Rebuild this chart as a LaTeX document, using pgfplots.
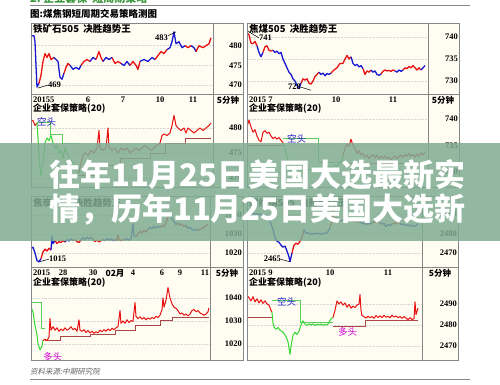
\documentclass[border=0pt]{standalone}
\usepackage{fontspec}
\usepackage{pgfplots}
\pgfplotsset{compat=1.18}
\setmainfont{Liberation Serif}
\newfontfamily\cjk{Noto Sans CJK SC}
\newfontfamily\cjkit[FakeSlant=0.2]{Noto Sans CJK SC}
\definecolor{cream}{RGB}{255,253,242}
\definecolor{pr}{RGB}{232,16,16}
\definecolor{pb}{RGB}{24,24,210}
\definecolor{pg}{RGB}{50,215,50}
\definecolor{stopr}{RGB}{170,70,70}
\definecolor{stopg}{RGB}{90,205,90}
\definecolor{frm}{RGB}{135,135,135}
\definecolor{banner}{RGB}{128,172,146}
\definecolor{kt}{RGB}{30,30,200}
\definecolor{dt}{RGB}{210,0,210}
\definecolor{hdr}{RGB}{60,150,60}
\pgfplotsset{
  panel/.style={scale only axis, anchor=north west, axis line style={draw=none},
    major tick length=0pt, xtick=\empty, yticklabel pos=right, ymajorgrids,
    grid style={gray!30, densely dotted}, no marks, clip=true,
    /pgf/number format/assume math mode=true, /pgf/number format/1000 sep={},
    yticklabel style={font=\bfseries\fontsize{8.5}{9}\selectfont, anchor=east, inner sep=0pt}},
  R/.style={pr, line width=1.3pt, line join=round},
  B/.style={pb, line width=1.3pt, line join=round},
  r/.style={pr, line width=1.0pt, line join=round},
  g/.style={pg, line width=1.0pt, line join=round},
  sr/.style={stopr, line width=0.6pt},
  sg/.style={stopg, line width=0.6pt},
}
\tikzset{num/.style={font=\bfseries\fontsize{8.5}{9}\selectfont, inner sep=0pt},
  lab/.style={font=\cjk\fontsize{9.5}{10}\selectfont, inner sep=0pt, anchor=west}}
\begin{document}
\begin{tikzpicture}[x=1pt,y=1pt]
\clip (0,0) rectangle (500,384);
\fill[white] (0,0) rectangle (500,384);
% header
\node[anchor=west, text=hdr, font=\cjk\bfseries\fontsize{11}{12}\selectfont, inner sep=0pt] at (30,386) {2.\ 企业套保\ \ 短周期策略};
\draw[frm, line width=0.8pt] (30,379) -- (470,379);
\node[anchor=west, font=\cjk\bfseries\fontsize{9.5}{10}\selectfont, inner sep=0pt] at (30,370) {图:煤焦钢短周期交易策略测图};
% panel backgrounds
\fill[cream] (31,361) rectangle (243,197);
\fill[cream] (247,361) rectangle (459,197);
\fill[cream] (31,188) rectangle (243,24);
\fill[cream] (247,188) rectangle (458,24);

% ================= TL top
\begin{axis}[panel, at={(31pt,361pt)}, width=182pt, height=71pt, xmin=31, xmax=213,
  ymin=467.75, ymax=485.75, ytick={470,475,480}, yticklabel style={xshift=29pt}]
\addplot[B] coordinates {(31,482.5)(34,482.5)(35,481)(36,475)(37,469.5)(39,470.5)};
\addplot[R] coordinates {(39,470.5)(41,472.5)(43,476)(45,478)(47,477)(49,478)(51,476.5)(54,477)};
\addplot[B] coordinates {(54,477)(56,476.5)(58,476)(60,472)(62,471.5)(64,473)};
\addplot[R] coordinates {(64,473)(66,474.5)(68,475.5)(70,475)};
\addplot[B] coordinates {(70,475)(73,474)(76,474.5)(79,474)(81,475)};
\addplot[R] coordinates {(81,475)(84,476)(87,476.5)(90,476)};
\addplot[B] coordinates {(90,476)(93,477)(96,476.5)};
\addplot[R] coordinates {(96,476.5)(99,478.5)(101,477)(103,476)};
\addplot[B] coordinates {(103,476)(106,477)(109,476.5)(112,477)};
\addplot[R] coordinates {(112,477)(115,475.5)(118,476)(121,475.5)};
\addplot[B] coordinates {(121,475.5)(124,475)(127,476)(130,475)};
\addplot[R] coordinates {(130,475)(133,476)(136,475)(138,474)(140,476)};
\addplot[B] coordinates {(140,476)(144,476.5)(148,476)(152,477)(155,476.5)};
\addplot[R] coordinates {(155,476.5)(158,477.5)(161,478.5)(164,478)(167,479)};
\addplot[B] coordinates {(167,479)(170,479.5)(172,481)(174,483.5)(176,480.5)(179,481)(182,479.5)(185,480)};
\addplot[R] coordinates {(185,480)(188,479.5)(191,480)};
\addplot[B] coordinates {(191,480)(194,479.5)(196,478.5)};
\addplot[R] coordinates {(196,478.5)(199,480)(203,479.5)(206,480)(209,480.5)(211,482)};
\draw[black, line width=0.5pt] (axis cs:38,469.25) -- (axis cs:48,470.0);
\node[num, anchor=west] at (axis cs:48,470.0) {469};
\draw[black, line width=0.5pt] (axis cs:168,482.5) -- (axis cs:176,483.5);
\node[num, anchor=east] at (axis cs:168,482.1) {483};
\end{axis}
% ================= TL bottom
\begin{axis}[panel, at={(31pt,280pt)}, width=182pt, height=83pt, xmin=31, xmax=213,
  ymin=468.2, ymax=484.8, ytick={470,475,480}, yticklabel style={xshift=29pt}]
\addplot[sg] coordinates {(37,481.2)(50,481.2)(50,478.8)(62,478.8)(62,477)(79,477)};
\addplot[sr] coordinates {(79,470.5)(95,470.5)(95,472.5)(120,472.5)(120,474)(150,474)(150,475)(165,475)(165,477)(185,477)(185,478)(211,478)};
\addplot[r] coordinates {(31,481.5)(33,481.5)(35,480.5)(37,481)};
\addplot[g] coordinates {(37,481)(38,478)(39,475)(40,472)(41,470.5)(43,473)(45,477)(47,478)(49,477.5)(51,478.5)(53,477)(55,476)(57,476.5)(59,475)(61,475.5)(63,474)(65,476)(67,475)(69,474)(71,473.5)(73,473)(75,472.5)(77,471.5)(79,471)};
\addplot[r] coordinates {(79,471)(81,473)(83,474.5)(85,475)(88,474.5)(91,475.5)(94,475)(97,476)(99,479.5)(100,476)(103,475.5)(106,476)(108,480)(109,476)(112,475.5)(115,476)(118,475)(121,476)(124,475.5)(127,476)(130,475)(133,475.5)(136,476)(139,475.5)(142,476)(145,476.5)(148,476)(151,475.5)(154,476)(157,476.5)(160,477)(162,478.5)(164,478.8)(167,478.5)(170,479)(172,480.5)(174,482.5)(176,480.5)(178,480)(181,479.5)(184,480)(186,479)(188,480)(191,479.5)(194,479)(197,479.5)(200,480)(203,479.5)(206,480)(209,480.5)(211,481)};
\node[lab, text=kt] at (axis cs:37,481.2) {空头};
\end{axis}

% ================= TR top
\begin{axis}[panel, at={(247pt,361pt)}, width=181pt, height=71pt, xmin=247, xmax=428,
  ymin=727.05, ymax=743.18, ytick={730,735,740}, yticklabel style={xshift=30pt}]
\addplot[R] coordinates {(247,741)(249,740.5)(251,738.6)(253,738.5)(255,739)(257,738)};
\addplot[B] coordinates {(257,738)(259,736.5)(261,735.5)(263,736.5)};
\addplot[R] coordinates {(263,736.5)(265,737.8)(267,738)(269,737)(271,736.8)(273,737)};
\addplot[B] coordinates {(273,737)(275,736.5)(277,736.8)(279,736.2)(281,736.5)(283,735)(285,734)(287,733)(289,732)(291,731.5)(293,730.5)(295,730)(297,729)(299,728.3)(301,729.5)};
\addplot[R] coordinates {(301,729.5)(303,730.5)(305,730.2)(307,730.5)(309,729.5)(311,729.3)(313,730)(315,731)(317,731.5)(319,732)};
\addplot[B] coordinates {(319,732)(321,731.5)(323,731.8)(325,731.2)(327,731.7)(329,731.5)(331,731.8)};
\addplot[R] coordinates {(331,731.8)(334,732.5)(337,733)(340,734)(343,734)(345,735)(347,735.8)(349,735)(351,735.5)};
\addplot[B] coordinates {(351,735.5)(353,734)(355,733.5)(357,733.8)(359,733.2)(361,733.5)(363,732.8)};
\addplot[R] coordinates {(363,732.8)(365,731.5)(367,732.3)(369,732)(371,732.5)};
\addplot[B] coordinates {(371,732.5)(373,732)(375,732.3)(377,731.5)(379,731.3)(381,731.6)};
\addplot[R] coordinates {(381,731.6)(383,732.2)(385,732.5)(387,732.3)(389,732.4)(391,732.2)(393,732.5)(395,732.3)};
\addplot[B] coordinates {(395,732.3)(397,732)(399,732.5)(401,732.2)(403,732.5)};
\addplot[R] coordinates {(403,732.5)(405,733)(407,732.8)(409,733.3)(411,733)(413,733.5)(415,733)(417,732.5)(419,733)(421,732.5)};
\addplot[B] coordinates {(421,732.5)(423,733)(425,733.5)};
\draw[black, line width=0.5pt] (axis cs:248,741.3) -- (axis cs:259,739.8);
\node[num, anchor=west] at (axis cs:259,739.8) {741};
\draw[black, line width=0.5pt] (axis cs:301,728.6) -- (axis cs:311,727.9);
\node[num, anchor=east] at (axis cs:301,728.7) {728};
\end{axis}
% ================= TR bottom
\begin{axis}[panel, at={(247pt,280pt)}, width=181pt, height=83pt, xmin=247, xmax=428,
  ymin=727.17, ymax=742.83, ytick={730,735,740}, yticklabel style={xshift=30pt}]
\addplot[sr] coordinates {(247,735.1)(283,735.1)};
\addplot[sg] coordinates {(283,736.4)(318,736.4)(318,731.9)(343,731.9)};
\addplot[sr] coordinates {(343,731.7)(425,731.7)};
\addplot[r] coordinates {(247,738.5)(249,739.8)(251,738.5)(253,737.5)(255,738)(257,736.8)(259,736)(261,735.7)(263,737.5)(265,737.8)(267,737.3)(269,737.5)(271,736.8)(273,736.3)(275,736.6)(277,736.2)(279,736.5)(281,736)(283,735.5)};
\addplot[g] coordinates {(283,735.5)(285,734.5)(287,733)(289,731.5)(291,731)(293,730.5)(295,730)(297,729.5)(299,729.8)(301,730.2)(303,729.7)(305,730.5)(307,730.2)(309,730.6)(311,730.3)(313,730.8)(315,731)(317,730.7)(319,731)(321,730.6)(323,731)(325,730.8)(327,731.2)(329,731)(331,730.7)(333,731)(335,731.3)(337,731)(339,731.5)(341,732)(343,733)};
\addplot[r] coordinates {(343,733)(345,734.5)(347,735.3)(349,734.8)(351,736.2)(353,735)(355,734.5)(357,733.5)(359,734)(361,733.2)(363,733.5)(365,732.8)(367,733.2)(369,732.5)(371,733)(373,733.3)(375,732.7)(377,733.2)(379,732.5)(381,733)(383,732.6)(385,733)(387,732.5)(389,732.8)(391,732.3)(393,732.7)(395,733)(397,732.5)(399,733)(401,733.2)(403,732.8)(405,733.3)(407,733)(409,733.5)(411,733)(413,733.3)(415,732.8)(417,733.4)(419,733)(421,733.6)(423,733.2)(425,733.8)};
\node[lab, text=kt] at (axis cs:287,736.2) {空头};
\end{axis}

% ================= BL top
\begin{axis}[panel, at={(31pt,188pt)}, width=179pt, height=71pt, xmin=31, xmax=210,
  ymin=1012.6, ymax=1050, ytick={1020,1030,1040}, yticklabel style={xshift=32pt}]
\addplot[B] coordinates {(31,1022.5)(33,1023)(35,1020)(37,1016)(39,1015.3)(41,1017)};
\addplot[R] coordinates {(41,1017)(43,1020.5)(45,1022)(47,1021)(49,1022.5)(51,1021.5)};
\addplot[B] coordinates {(51,1021.5)(52,1029)(53,1025)(55,1026.5)};
\addplot[R] coordinates {(55,1026.5)(57,1025)(59,1026)(61,1025.5)(63,1026.5)(65,1025.8)};
\addplot[B] coordinates {(65,1025.8)(67,1027)(69,1026.3)(71,1027.5)(73,1026.5)};
\addplot[R] coordinates {(73,1026.5)(75,1027)(77,1026)(79,1025.5)(81,1026.8)};
\addplot[B] coordinates {(81,1026.8)(83,1028)(85,1027.2)(87,1028.3)(89,1027.5)(91,1028)(93,1027.3)};
\addplot[R] coordinates {(93,1027.3)(95,1026)(97,1026.8)(99,1025.8)(101,1026.5)(103,1027)(105,1026.5)};
\addplot[B] coordinates {(105,1026.5)(107,1027.5)(109,1026.8)(111,1027.3)(113,1026.5)(115,1027)};
\addplot[R] coordinates {(115,1027)(117,1026.5)(118,1029.5)(119,1027)(121,1026.5)(123,1027.2)(125,1026.8)};
\addplot[B] coordinates {(125,1026.8)(127,1027.5)(129,1026.8)(131,1027.3)(133,1035.5)(134,1029)(136,1028.5)};
\addplot[R] coordinates {(136,1028.5)(138,1030)(140,1031.5)(142,1030.5)(144,1032)(146,1031)(148,1032.5)};
\addplot[B] coordinates {(148,1032.5)(150,1033.5)(152,1032.8)(154,1034)(156,1033.2)(158,1034)(160,1033.5)};
\addplot[R] coordinates {(160,1033.5)(162,1034.5)(164,1033.8)(166,1036)(168,1039)(170,1041)};
\addplot[B] coordinates {(170,1041)(172,1038)(174,1036.5)(176,1035)(178,1035.8)};
\addplot[R] coordinates {(178,1035.8)(180,1034.5)(182,1035.2)(184,1034)(186,1034.5)};
\addplot[B] coordinates {(186,1034.5)(188,1033)(190,1033.5)(192,1032.5)(194,1032)(196,1032.5)(198,1031.8)};
\addplot[R] coordinates {(198,1031.8)(200,1032.5)(202,1033)(204,1033.5)(206,1034.5)(208,1035)};
\draw[black, line width=0.5pt] (axis cs:40,1015.4) -- (axis cs:49,1016.8);
\node[num, anchor=west] at (axis cs:49,1016.8) {1015};
\end{axis}
% ================= BL bottom
\begin{axis}[panel, at={(31pt,106pt)}, width=179pt, height=82pt, xmin=31, xmax=210,
  ymin=1013.0, ymax=1048.7, ytick={1020,1030,1040}, yticklabel style={xshift=32pt}]
\addplot[sg] coordinates {(31,1038)(41,1038)(41,1027)(45,1027)};
\addplot[sr] coordinates {(45,1021.5)(60,1021.5)(60,1023.5)(90,1023.5)(90,1024)(115,1024)(115,1026)(135,1026)(135,1028)(160,1028)(160,1030.5)(172,1030.5)(172,1031.5)(209,1031.5)};
\addplot[g] coordinates {(31,1036)(33,1034)(35,1028)(37,1024)(38,1020)(40,1017.5)(42,1019)(43,1021.5)};
\addplot[r] coordinates {(43,1021.5)(45,1022)(47,1021.5)(49,1023)(50,1031)(51,1026)(53,1027.5)(55,1026)(57,1027)(59,1025.5)(61,1026.5)(63,1025.8)(65,1027)(67,1026)(69,1026.5)(71,1027.5)(73,1026.2)(75,1026.8)(77,1025.5)(79,1030.5)(80,1026)(82,1025.5)(84,1026.2)(86,1025)(88,1025.8)(90,1024.8)(92,1025.5)(94,1024.6)(96,1025.3)(98,1024.8)(100,1026)(102,1025.3)(104,1026.2)(106,1025.5)(108,1026.5)(110,1025.8)(112,1026.8)(114,1026.2)(116,1027)(118,1027.5)(120,1034.5)(121,1029)(123,1030)(125,1029)(127,1030.5)(129,1029.3)(131,1030.2)(133,1029.8)(135,1038)(136,1032)(138,1031)(140,1031.8)(142,1030.8)(144,1031.5)(146,1030.5)(148,1031.3)(150,1030.8)(152,1031.5)(154,1031)(156,1032)(158,1031.5)(160,1032.5)(162,1035)(163,1040)(164,1036)(166,1039)(168,1044.5)(170,1040)(172,1037.5)(174,1036)(176,1035.5)(178,1034.5)(180,1033)(182,1033.5)(184,1032.5)(186,1033)(188,1032.2)(190,1033)(192,1034.5)(194,1035)(196,1034)(198,1034.5)(200,1033.5)(202,1033)(204,1032.5)(206,1033)(208,1034)(209,1035.7)};
\node[lab, text=dt] at (axis cs:43,1014.3) {多头};
\end{axis}

% ================= BR top
\begin{axis}[panel, at={(247pt,188pt)}, width=175pt, height=71pt, xmin=247, xmax=422,
  ymin=2462.8, ymax=2499.2, ytick={2470,2480,2490}, yticklabel style={xshift=35pt}]
\addplot[B] coordinates {(247,2490)(249,2491)(251,2489.5)(253,2490.5)(255,2489.8)(257,2490.3)(259,2489.5)(261,2490)(263,2489)(265,2489.5)(267,2488.5)(269,2487)(271,2485)(273,2482)(275,2478)(277,2476)(279,2475.5)(281,2474)(283,2473)(285,2473.5)(287,2471)(289,2468)(290,2465.5)(292,2470)};
\addplot[R] coordinates {(292,2470)(294,2474)(296,2475)(298,2474.5)(300,2476)(302,2478)(304,2482)};
\addplot[B] coordinates {(304,2482)(306,2480)(308,2480.5)(310,2479.5)(312,2480)(314,2479.6)(316,2480.2)(318,2479.8)(320,2480)(322,2479.5)(324,2480.3)(326,2480)(328,2481)(330,2483)};
\addplot[R] coordinates {(330,2483)(332,2486)(333,2493)(334,2487)(336,2488)(338,2486.5)(340,2487)};
\addplot[B] coordinates {(340,2487)(342,2486.5)(344,2487.2)(346,2486.8)(348,2487.5)(350,2486.8)(352,2487.3)};
\addplot[R] coordinates {(352,2487.3)(354,2486)(356,2486.8)(358,2485.5)(360,2486)};
\addplot[B] coordinates {(360,2486)(362,2485)(364,2485.5)(366,2484.5)(368,2485.2)(370,2484.8)(372,2485.5)};
\addplot[R] coordinates {(372,2485.5)(374,2486)(376,2485.5)(378,2486.2)(380,2485.3)};
\addplot[B] coordinates {(380,2485.3)(382,2484.8)(384,2485.2)(386,2483.5)(388,2484.5)(390,2484)(392,2484.8)};
\addplot[R] coordinates {(392,2484.8)(394,2485.3)(396,2485)(398,2485.8)(400,2485.2)};
\addplot[B] coordinates {(400,2485.2)(402,2484.5)(404,2484.8)(406,2484)(408,2484.5)(410,2483.8)(412,2484.3)(414,2483.5)(416,2484)(418,2485)};
\draw[black, line width=0.5pt] (axis cs:281,2466.7) -- (axis cs:290,2465.5);
\node[num, anchor=east] at (axis cs:281,2466.9) {2465};
\end{axis}
% ================= BR bottom
\begin{axis}[panel, at={(247pt,106pt)}, width=175pt, height=82pt, xmin=247, xmax=422,
  ymin=2463.3, ymax=2502.4, ytick={2470,2480,2490}, yticklabel style={xshift=35pt}]
\addplot[sr] coordinates {(247,2483.8)(272,2483.8)};
\addplot[sg] coordinates {(272,2491.9)(300,2491.9)(300,2481.5)(333,2481.5)};
\addplot[sr] coordinates {(333,2479.5)(365,2479.5)(365,2482)(418,2482)};
\addplot[r] coordinates {(247,2494)(249,2493)(251,2491.5)(253,2493.5)(255,2491)(257,2492.5)(259,2490.5)(261,2492)(263,2490.3)(265,2491.5)(267,2490)(269,2489.5)(271,2487)(272,2486)};
\addplot[g] coordinates {(272,2486)(273,2481)(274,2479)(276,2478)(278,2478.8)(280,2477.5)(282,2477)(284,2476)(286,2474.5)(288,2472)(290,2466)(291,2470)(293,2475)(295,2476.5)(297,2475.5)(299,2477)(301,2480)(303,2482)(305,2480.5)(307,2479.8)(309,2480.5)(311,2480)(313,2480.6)(315,2479.7)(317,2480.4)(319,2480)(321,2480.5)(323,2479.8)(325,2480.3)(327,2480)(329,2481)(331,2483)(333,2483.5)};
\addplot[r] coordinates {(333,2483.5)(335,2487)(337,2491.5)(339,2490)(341,2491)(343,2489.5)(345,2490.5)(347,2488.5)(349,2489.8)(351,2488)(353,2489)(355,2488.3)(357,2489.5)(359,2490)(360,2494.5)(361,2487)(362,2484.5)(364,2484)(366,2483.3)(368,2484.2)(370,2483.5)(372,2484)(374,2483.2)(376,2484.5)(378,2483.6)(380,2484.3)(382,2483.5)(384,2484.6)(386,2483.7)(388,2484.2)(390,2483.4)(392,2484.6)(394,2483.8)(396,2484.3)(398,2483.5)(400,2484)(402,2483.2)(404,2484)(406,2483.3)(408,2482.5)(410,2483.5)(412,2482.6)(414,2483)(415,2491)(416,2485)(418,2488)};
\node[lab, text=kt] at (axis cs:277,2491.0) {空头};
\node[lab, text=dt] at (axis cs:338,2476.7) {多头};
\end{axis}

% frames
\begin{scope}[frm, line width=0.7pt]
\draw (31,361) rectangle (243,197); \draw (213,361) -- (213,197); \draw (31,290) -- (243,290);
\draw (247,361) rectangle (459,197); \draw (428,361) -- (428,197); \draw (247,290) -- (459,290);
\draw (31,188) rectangle (243,24); \draw (210,188) -- (210,24); \draw (31,117) -- (243,117);
\draw (247,188) rectangle (458,24); \draw (422,188) -- (422,24); \draw (247,117) -- (458,117);
\end{scope}
% titles
\node[lab, font=\cjk\bfseries\fontsize{9.5}{10}\selectfont] at (33,355) {铁矿石505\ \ 决胜趋势王};
\node[lab, font=\cjk\bfseries\fontsize{9.5}{10}\selectfont] at (249,355) {焦煤505\ \ 决胜趋势王};
\node[lab, font=\cjk\bfseries\fontsize{9.5}{10}\selectfont] at (33,181) {焦炭505\ \ 决胜趋势王};
\node[lab, font=\cjk\bfseries\fontsize{9.5}{10}\selectfont] at (249,181) {螺纹钢505\ \ 决胜趋势王};
\foreach \x/\y in {33/275, 249/275, 33/101, 249/101}
  \node[lab, font=\cjk\bfseries\fontsize{9}{10}\selectfont] at (\x,\y) {企业套保策略(20)};
% date strips
\node[num, anchor=west] at (33,284) {20155};
\node[num] at (88,284) {6}; \node[num] at (123,284) {7}; \node[num] at (160,284) {10}; \node[num] at (193,284) {11};
\node[num, font=\cjk\bfseries\fontsize{8.5}{9}\selectfont] at (228,284) {5分钟};
\node[num, anchor=west] at (249,284) {2015 7};
\node[num] at (336,284) {10}; \node[num] at (393,284) {11};
\node[num, font=\cjk\bfseries\fontsize{8.5}{9}\selectfont] at (443,284) {5分钟};
\node[num, anchor=west] at (33,111) {2015};
\node[num] at (63,111) {28}; \node[num] at (93,111) {30};
\node[num, font=\cjk\bfseries\fontsize{8.5}{9}\selectfont] at (115,111) {02月};
\node[num] at (133,111) {4}; \node[num] at (162,111) {6}; \node[num] at (180,111) {9}; \node[num] at (205,111) {11};
\node[num, font=\cjk\bfseries\fontsize{8.5}{9}\selectfont] at (227,111) {5分钟};
\node[num, anchor=west] at (249,111) {2015 9};
\node[num] at (330,111) {10}; \node[num] at (388,111) {11};
\node[num, font=\cjk\bfseries\fontsize{8.5}{9}\selectfont] at (440,111) {5分钟};
% footer
\node[anchor=west, text=gray!80!black, font=\cjkit\fontsize{7.5}{8}\selectfont, inner sep=0pt] at (30,12) {资料来源:中期研究院};
\draw[frm, line width=0.7pt] (30,5) -- (470,5);
% banner
\fill[banner, fill opacity=0.85] (0,241) rectangle (500,143);
\node[anchor=west, text=white, font=\cjk\bfseries\fontsize{31}{34}\selectfont, inner sep=0pt] at (49,209) {往年11月25日美国大选最新实};
\node[anchor=west, text=white, font=\cjk\bfseries\fontsize{31}{34}\selectfont, inner sep=0pt] at (49,174) {情，历年11月25日美国大选新};
\end{tikzpicture}
\end{document}
